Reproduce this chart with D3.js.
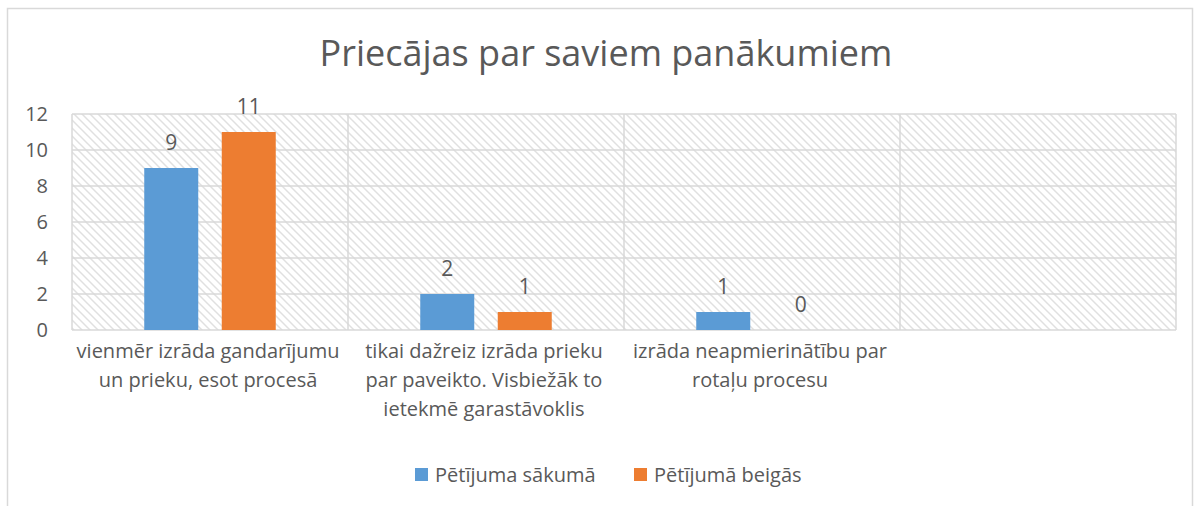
<!DOCTYPE html>
<html>
<head>
<meta charset="utf-8">
<script src="https://cdn.jsdelivr.net/npm/d3@7"></script>
<style>
  html, body { margin: 0; padding: 0; background: #fff; }
  svg { display: block; font-family: "Open Sans", sans-serif; }
</style>
</head>
<body>
<div id="chart"></div>
<script>
// chart data
const title = "Priecājas par saviem panākumiem";
const categories = [
  "vienmēr izrāda gandarījumu\nun prieku, esot procesā",
  "tikai dažreiz izrāda prieku\npar paveikto. Visbiežāk to\nietekmē garastāvoklis",
  "izrāda neapmierinātību par\nrotaļu procesu",
  ""
];
const seriesNames = ["Pētījuma sākumā", "Pētījumā beigās"];
const startValues = [9, 2, 1, null];
const endValues = [11, 1, 0, null];
const yTicks = [0, 2, 4, 6, 8, 10, 12];
const colors = ["#5b9bd5", "#ed7d31"];

const W = 1195, H = 506;
const plot = { left: 72, right: 1176, top: 114, bottom: 330 };
const textColor = "#595959";
const gridColor = "#d9d9d9";

const svg = d3.select("#chart").append("svg")
  .attr("width", W)
  .attr("height", H);

svg.append("rect").attr("width", W).attr("height", H).attr("fill", "#fff");

// outer chart border (bottom runs off the picture)
svg.append("rect")
  .attr("x", 7.5).attr("y", 8.5)
  .attr("width", 1185).attr("height", 520)
  .attr("fill", "none")
  .attr("stroke", gridColor)
  .attr("stroke-width", 1.5);

// hatch pattern for plot background
const defs = svg.append("defs");
defs.append("pattern")
  .attr("id", "hatch")
  .attr("patternUnits", "userSpaceOnUse")
  .attr("width", 8).attr("height", 8)
  .append("path")
  .attr("d", "M-2,-2L10,10M-2,6L2,10M6,-2L10,2")
  .attr("stroke", "#e0e0e0")
  .attr("stroke-width", 1.5)
  .attr("fill", "none");

const x = d3.scaleBand()
  .domain(d3.range(categories.length))
  .range([plot.left, plot.right]);

const step = 77.5, gap = 23.5;
const xs = d3.scaleBand()
  .domain([0, 1])
  .range([0, x.bandwidth()])
  .paddingInner(gap / step)
  .paddingOuter((x.bandwidth() / step - 2 + gap / step) / 2);

const y = d3.scaleLinear()
  .domain([0, 12])
  .range([plot.bottom, plot.top]);

svg.append("rect")
  .attr("x", plot.left).attr("y", plot.top)
  .attr("width", plot.right - plot.left)
  .attr("height", plot.bottom - plot.top)
  .attr("fill", "url(#hatch)");

// horizontal gridlines
svg.append("g")
  .selectAll("line")
  .data(yTicks)
  .join("line")
  .attr("x1", plot.left).attr("x2", plot.right)
  .attr("y1", d => y(d)).attr("y2", d => y(d))
  .attr("stroke", gridColor)
  .attr("stroke-width", 1.5);

// vertical category dividers
svg.append("g")
  .selectAll("line")
  .data(d3.range(categories.length + 1))
  .join("line")
  .attr("x1", i => plot.left + i * x.step())
  .attr("x2", i => plot.left + i * x.step())
  .attr("y1", plot.top).attr("y2", plot.bottom)
  .attr("stroke", gridColor)
  .attr("stroke-width", 1.5);

// y tick labels
svg.append("g")
  .selectAll("text")
  .data(yTicks)
  .join("text")
  .attr("x", 48)
  .attr("y", d => y(d))
  .attr("dy", "0.35em")
  .attr("text-anchor", "end")
  .attr("fill", textColor)
  .style("font-size", "20px")
  .text(d => d);

// bars
const series = [startValues, endValues];
series.forEach((vals, s) => {
  const g = svg.append("g");
  const pts = vals.map((v, i) => ({ v, i })).filter(d => d.v !== null);
  g.selectAll("rect")
    .data(pts)
    .join("rect")
    .attr("x", d => x(d.i) + xs(s))
    .attr("y", d => y(d.v))
    .attr("width", xs.bandwidth())
    .attr("height", d => y(0) - y(d.v))
    .attr("fill", colors[s]);
  g.selectAll("text")
    .data(pts)
    .join("text")
    .attr("x", d => x(d.i) + xs(s) + xs.bandwidth() / 2)
    .attr("y", d => y(d.v) - 18)
    .attr("text-anchor", "middle")
    .attr("fill", textColor)
    .style("font-size", "21px")
    .text(d => d.v);
});

// category labels
svg.append("g")
  .selectAll("text")
  .data(categories)
  .join("text")
  .attr("text-anchor", "middle")
  .attr("fill", textColor)
  .style("font-size", "20px")
  .each(function (d, i) {
    const t = d3.select(this);
    d.split("\n").forEach((line, k) => {
      t.append("tspan")
        .attr("x", x(i) + x.bandwidth() / 2 - 2)
        .attr("y", 358 + k * 29)
        .text(line);
    });
  });

// title
svg.append("text")
  .attr("x", 606)
  .attr("y", 66)
  .attr("text-anchor", "middle")
  .attr("fill", textColor)
  .style("font-size", "36px")
  .text(title);

// legend
const legendX = [415, 634];
const legend = svg.append("g")
  .selectAll("g")
  .data(seriesNames)
  .join("g")
  .attr("transform", (d, i) => `translate(${legendX[i]},468)`);
legend.append("rect")
  .attr("width", 13).attr("height", 13)
  .attr("fill", (d, i) => colors[i]);
legend.append("text")
  .attr("x", 20)
  .attr("y", 14)
  .attr("fill", textColor)
  .style("font-size", "20px")
  .text(d => d);
</script>
</body>
</html>
